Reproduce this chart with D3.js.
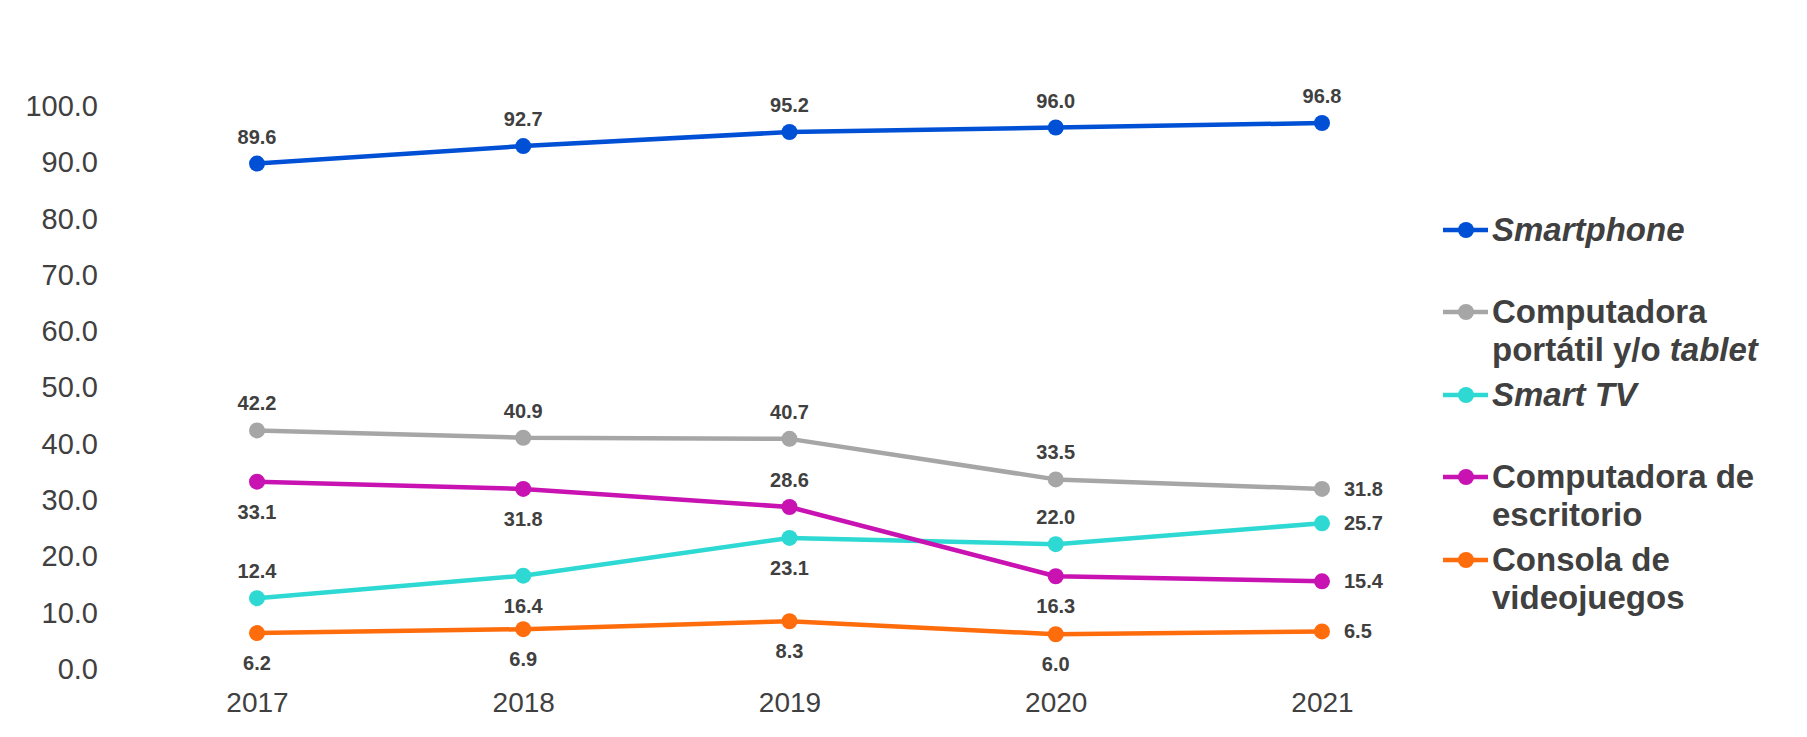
<!DOCTYPE html>
<html><head><meta charset="utf-8">
<script src="https://cdn.jsdelivr.net/npm/d3@7"></script>
<style>
html,body{margin:0;padding:0;background:#fff;}
svg{display:block;font-family:"Liberation Sans",Arial,sans-serif;}
</style></head>
<body>
<svg id="chart" width="1807" height="737"></svg>
<script>
const years = ["2017","2018","2019","2020","2021"];
const yTicks = [0,10,20,30,40,50,60,70,80,90,100];
const smartphone = [89.6, 92.7, 95.2, 96.0, 96.8];
const laptop = [42.2, 40.9, 40.7, 33.5, 31.8];
const smartTV = [12.4, 16.4, 23.1, 22.0, 25.7];
const desktop = [33.1, 31.8, 28.6, 16.3, 15.4];
const consola = [6.2, 6.9, 8.3, 6.0, 6.5];

// label placement per series (above / below / right)
const series = [
  {key:"smartphone", values: smartphone, color:"#0050D6", place:["a","a","a","a","a"],
   legend:[[{t:"Smartphone",i:true}]]},
  {key:"laptop", values: laptop, color:"#A6A6A6", place:["a","a","a","a","r"],
   legend:[[{t:"Computadora",i:false}],[{t:"portátil y/o ",i:false},{t:"tablet",i:true}]]},
  {key:"tv", values: smartTV, color:"#2ED9D3", place:["a","b","b","a","r"],
   legend:[[{t:"Smart TV",i:true}]]},
  {key:"desktop", values: desktop, color:"#C812B2", place:["b","b","a","b","r"],
   legend:[[{t:"Computadora de",i:false}],[{t:"escritorio",i:false}]]},
  {key:"consola", values: consola, color:"#FF6C0C", place:["b","b","b","b","r"],
   legend:[[{t:"Consola de",i:false}],[{t:"videojuegos",i:false}]]}
];
const legendY = [230, 312, 395, 477, 560];

const svg = d3.select("#chart");
const x = d3.scalePoint().domain(years).range([257, 1322]);
const y = d3.scaleLinear().domain([0,100]).range([668,105]);

const textColor = "#404040";

// Y axis
const yAxis = svg.append("g").attr("transform","translate(98,0)")
  .call(d3.axisLeft(y).tickValues(yTicks).tickFormat(d3.format(".1f")).tickSize(0).tickPadding(0));
yAxis.select(".domain").remove();
yAxis.selectAll("text").attr("fill",textColor).style("font-size","29px")
  .style("font-family","'Liberation Sans',Arial,sans-serif").attr("dy","0.36em");

// X axis
const xAxis = svg.append("g").attr("transform","translate(0,712)")
  .call(d3.axisBottom(x).tickSize(0).tickPadding(0));
xAxis.select(".domain").remove();
xAxis.selectAll("text").attr("fill",textColor).style("font-size","28px")
  .style("font-family","'Liberation Sans',Arial,sans-serif").attr("dy","0");

const line = d3.line().x((d,i)=>x(years[i])).y(d=>y(d));

series.forEach(s=>{
  const g = svg.append("g");
  g.append("path").datum(s.values).attr("d",line).attr("fill","none")
    .attr("stroke",s.color).attr("stroke-width",4.5).attr("stroke-linejoin","round");
  g.selectAll("circle").data(s.values).join("circle")
    .attr("cx",(d,i)=>x(years[i])).attr("cy",d=>y(d)).attr("r",8).attr("fill",s.color);
  g.selectAll("text.lbl").data(s.values).join("text").attr("class","lbl")
    .attr("x",(d,i)=> s.place[i]==="r" ? x(years[i])+22 : x(years[i]))
    .attr("y",(d,i)=> s.place[i]==="a" ? y(d)-20 : s.place[i]==="b" ? y(d)+37 : y(d)+7)
    .attr("text-anchor",(d,i)=> s.place[i]==="r" ? "start" : "middle")
    .attr("fill",textColor).style("font-size","20px").style("font-weight","bold")
    .text(d=>d3.format(".1f")(d));
});

// Legend
series.forEach((s,k)=>{
  const ly = legendY[k];
  const g = svg.append("g");
  g.append("line").attr("x1",1443).attr("x2",1488).attr("y1",ly).attr("y2",ly)
    .attr("stroke",s.color).attr("stroke-width",4.5);
  g.append("circle").attr("cx",1466).attr("cy",ly).attr("r",8).attr("fill",s.color);
  s.legend.forEach((lineParts,li)=>{
    const t = g.append("text").attr("x",1492).attr("y",ly+11+li*38)
      .attr("fill",textColor).style("font-size","33px").style("font-weight","bold");
    lineParts.forEach(p=>{
      t.append("tspan").text(p.t).style("font-style",p.i?"italic":"normal");
    });
  });
});
</script>
</body></html>
